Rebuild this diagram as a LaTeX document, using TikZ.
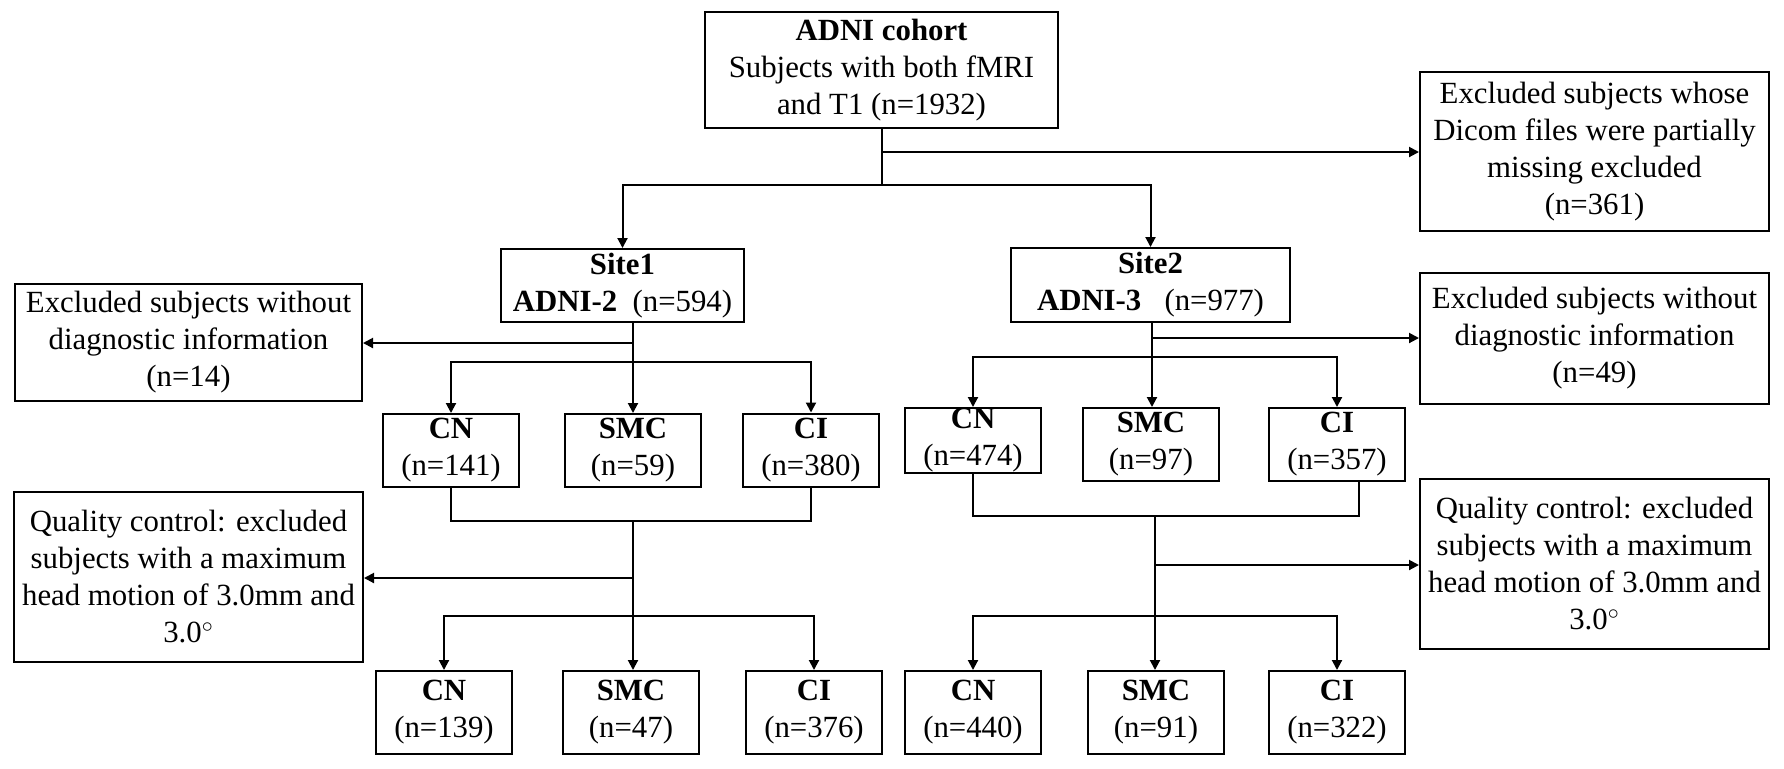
\documentclass[tikz,border=0pt]{standalone}
\usepackage{fontspec}
\setmainfont{Liberation Serif}
\usetikzlibrary{arrows.meta}
\begin{document}
\begin{tikzpicture}[x=0.5pt,y=-0.5pt,
  box/.style={draw, line width=1pt, align=center, inner sep=0pt, font=\fontsize{15.4}{18.5}\selectfont},
  grp/.style={box, minimum width=68pt, minimum height=36.5pt},
  grpb/.style={box, minimum width=68pt, minimum height=41.5pt},
  wide/.style={box, minimum width=174.5pt},
  ln/.style={line width=1pt},
  arr/.style={line width=1pt, -{Triangle[length=5pt,width=5pt]}},
]
\useasboundingbox (0,0) rectangle (1784,768);

% main boxes
\node[box, minimum width=176.5pt, minimum height=58pt] (adni) at (881.5,70)
  {\textbf{ADNI cohort}\\Subjects with both fMRI\\and T1 (n=1932)};
\node[wide, minimum height=79.5pt] (exdicom) at (1594.5,151.5)
  {Excluded subjects whose\\Dicom files were partially\\missing excluded\\(n=361)};
\node[box, minimum width=121.5pt, minimum height=36.5pt] (site1) at (622.5,285.5)
  {\textbf{Site1}\\\textbf{ADNI-2}~~(n=594)};
\node[box, minimum width=139.5pt, minimum height=37pt] (site2) at (1150.5,285)
  {\textbf{Site2}\\\textbf{ADNI-3}~~~(n=977)};
\node[box, minimum width=173.5pt, minimum height=58.5pt] (ex14) at (188.5,342.5)
  {Excluded subjects without\\diagnostic information\\(n=14)};
\node[wide, minimum height=65.5pt] (ex49) at (1594.5,338.5)
  {Excluded subjects without\\diagnostic information\\(n=49)};

% first-level groups
\node[grp] (cn1) at (451,450.5) {\textbf{CN}\\(n=141)};
\node[grp] (smc1) at (633,450.5) {\textbf{SMC}\\(n=59)};
\node[grp] (ci1) at (811,450) {\textbf{CI}\\(n=380)};
\node[box, minimum width=68pt, minimum height=32.5pt] (cn2) at (973,440.5) {\textbf{CN}\\(n=474)};
\node[grp] (smc2) at (1151,444.5) {\textbf{SMC}\\(n=97)};
\node[grp] (ci2) at (1337,444.5) {\textbf{CI}\\(n=357)};

% quality control
\node[wide, minimum height=85pt] (qc1) at (188.5,577)
  {Quality control: excluded\\subjects with a maximum\\head motion of 3.0mm and\\3.0$^{\circ}$};
\node[wide, minimum height=85pt] (qc2) at (1594.5,564)
  {Quality control: excluded\\subjects with a maximum\\head motion of 3.0mm and\\3.0$^{\circ}$};

% final groups
\node[grpb] (cn1b) at (444,712.5) {\textbf{CN}\\(n=139)};
\node[grpb] (smc1b) at (631,712.5) {\textbf{SMC}\\(n=47)};
\node[grpb] (ci1b) at (814,712.5) {\textbf{CI}\\(n=376)};
\node[grpb] (cn2b) at (973,712.5) {\textbf{CN}\\(n=440)};
\node[grpb] (smc2b) at (1156,712.5) {\textbf{SMC}\\(n=91)};
\node[grpb] (ci2b) at (1337,712.5) {\textbf{CI}\\(n=322)};

% junctions
\coordinate (t0) at (881.5,185);
\coordinate (b0) at (881.5,152);
\coordinate (b1) at (633,343);
\coordinate (h1) at (633,362);
\coordinate (b2) at (1152,338);
\coordinate (h2) at (1152,357);
\coordinate (m1) at (633,521);
\coordinate (b3) at (633,578);
\coordinate (h3) at (633,616);
\coordinate (m2) at (1155,516);
\coordinate (b4) at (1155,565);
\coordinate (h4) at (1155,616);

% top level
\draw[ln] (adni.south) -- (t0);
\draw[arr] (b0) -- (b0 -| exdicom.west);
\draw[arr] (t0) -| (site1.north);
\draw[arr] (t0) -| (site2.north);

% site 1
\draw[arr] (site1.south -| b1) -- (b1 |- smc1.north);
\draw[arr] (b1) -- (b1 -| ex14.east);
\draw[arr] (h1) -| (cn1.north);
\draw[arr] (h1) -| (ci1.north);

% site 2
\draw[arr] (site2.south -| b2) -- (b2 |- smc2.north);
\draw[arr] (b2) -- (b2 -| ex49.west);
\draw[arr] (h2) -| (cn2.north);
\draw[arr] (h2) -| (ci2.north);

% site 1 quality control
\draw[ln] (cn1.south) |- (m1) -| (ci1.south);
\draw[arr] (m1) -- (m1 |- smc1b.north);
\draw[arr] (b3) -- (b3 -| qc1.east);
\draw[arr] (h3) -| (cn1b.north);
\draw[arr] (h3) -| (ci1b.north);

% site 2 quality control
\draw[ln] (cn2.south) |- (m2) -| ([xshift=11pt]ci2.south);
\draw[arr] (m2) -- (m2 |- smc2b.north);
\draw[arr] (b4) -- (b4 -| qc2.west);
\draw[arr] (h4) -| (cn2b.north);
\draw[arr] (h4) -| (ci2b.north);
\end{tikzpicture}
\end{document}
